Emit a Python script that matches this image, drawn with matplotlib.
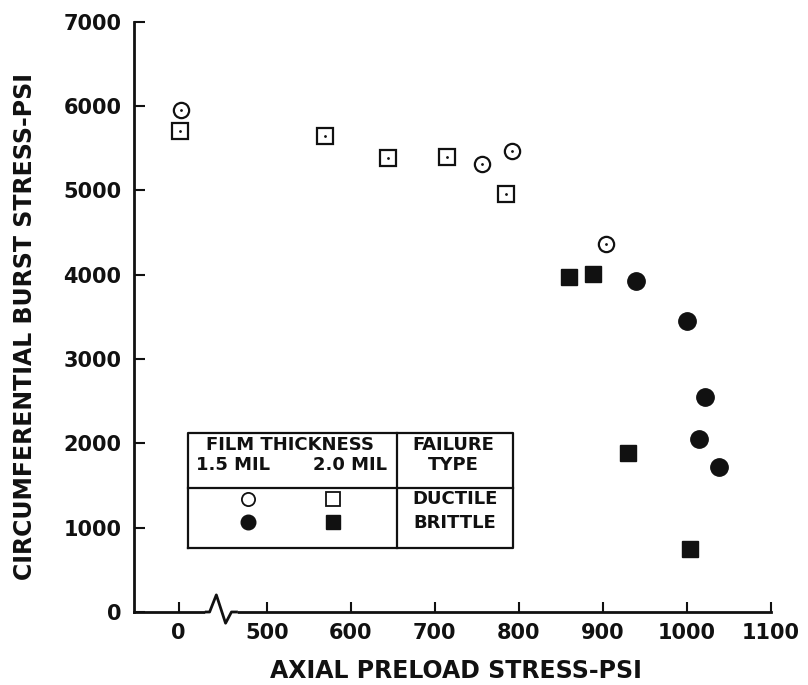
import matplotlib
matplotlib.use('Agg')
import matplotlib.pyplot as plt
import matplotlib.transforms as mtransforms

# 数据
open_circle_x = [3, 756, 792, 904]
open_circle_y = [5950, 5310, 5470, 4370]
open_square_x = [2, 569, 644, 714, 785]
open_square_y = [5700, 5640, 5380, 5390, 4960]
filled_circle_x = [939, 1000, 1021, 1014, 1038]
filled_circle_y = [3920, 3450, 2550, 2050, 1720]
filled_square_x = [860, 888, 930, 1004]
filled_square_y = [3970, 4010, 1880, 750]

x_ticks = [0, 500, 600, 700, 800, 900, 1000, 1100]
y_ticks = [0, 1000, 2000, 3000, 4000, 5000, 6000, 7000]

# 断轴: 0..450 区域被压缩
BREAK_AT = 450
ZERO_POS = 395


def xpos(v):
    return v + ZERO_POS if v < BREAK_AT else v


plt.rcParams['font.family'] = ['DejaVu Sans']
plt.rcParams['font.weight'] = 'bold'

fig = plt.figure(figsize=(8.08, 6.85), dpi=100)
ax = fig.add_axes([0.1658, 0.10657, 0.7884, 0.8617])

ink = '#111111'
open_kw = dict(linestyle='none', markerfacecolor='white', markeredgecolor=ink,
               markeredgewidth=1.6, zorder=3)
dot_kw = dict(linestyle='none', marker='.', markersize=2, color=ink, zorder=4)

ax.plot([xpos(v) for v in open_circle_x], open_circle_y, marker='o', markersize=11, **open_kw)
ax.plot([xpos(v) for v in open_circle_x], open_circle_y, **dot_kw)
ax.plot([xpos(v) for v in open_square_x], open_square_y, marker='s', markersize=11, **open_kw)
ax.plot([xpos(v) for v in open_square_x], open_square_y, **dot_kw)
ax.plot([xpos(v) for v in filled_circle_x], filled_circle_y, marker='o', markersize=12.5,
        linestyle='none', color=ink, zorder=3)
ax.plot([xpos(v) for v in filled_square_x], filled_square_y, marker='s', markersize=12,
        linestyle='none', color=ink, zorder=3)

ax.set_xlim(342, 1100)
ax.set_ylim(0, 7000)
ax.set_xticks([xpos(v) for v in x_ticks])
ax.set_xticklabels([str(v) for v in x_ticks])
ax.set_yticks(y_ticks)
ax.set_yticklabels([str(v) for v in y_ticks])

for s in ['top', 'right']:
    ax.spines[s].set_visible(False)
for s in ['left', 'bottom']:
    ax.spines[s].set_linewidth(2)
    ax.spines[s].set_color(ink)

ax.tick_params(axis='x', direction='in', length=7, width=1.5, pad=8, labelsize=15, colors=ink)
ax.tick_params(axis='y', direction='in', length=8, width=1.5, pad=9, labelsize=15, colors=ink)

# 断轴锯齿
trans = mtransforms.blended_transform_factory(ax.transData, ax.transAxes)
ax.plot([430, 462], [0, 0], color='white', lw=4, transform=trans, clip_on=False, zorder=5)
ax.plot([428, 432, 440, 451, 458, 464], [0, 0, 0.029, -0.019, 0, 0], color=ink, lw=2,
        transform=trans, clip_on=False, zorder=6)

# 图例表格
box_l, box_r, box_t, box_b = 0.0853, 0.595, 0.3027, 0.1079
div_x, div_y = 0.4124, 0.2096
T = ax.transAxes
lw_box = 1.6
ax.plot([box_l, box_r, box_r, box_l, box_l], [box_b, box_b, box_t, box_t, box_b],
        color=ink, lw=lw_box, transform=T, zorder=5)
ax.plot([div_x, div_x], [box_b, box_t], color=ink, lw=lw_box, transform=T, zorder=5)
ax.plot([box_l, box_r], [div_y, div_y], color=ink, lw=lw_box, transform=T, zorder=5)

tkw = dict(transform=T, ha='center', va='center', fontsize=13, fontweight='bold', color=ink)
ax.text(0.2449, 0.2829, 'FILM THICKNESS', **tkw)
ax.text(0.1559, 0.249, '1.5 MIL', **tkw)
ax.text(0.339, 0.249, '2.0 MIL', **tkw)
ax.text(0.5013, 0.2829, 'FAILURE', **tkw)
ax.text(0.5013, 0.249, 'TYPE', **tkw)
ax.text(0.504, 0.1914, 'DUCTILE', **tkw)
ax.text(0.504, 0.1508, 'BRITTLE', **tkw)

ax.plot([0.1794], [0.1914], marker='o', markersize=9.5, transform=T, clip_on=False,
        linestyle='none', markerfacecolor='white', markeredgecolor=ink, markeredgewidth=1.3, zorder=6)
ax.plot([0.1794], [0.1914], transform=T, clip_on=False, **dot_kw)
ax.plot([0.3129], [0.1914], marker='s', markersize=9.5, transform=T, clip_on=False,
        linestyle='none', markerfacecolor='white', markeredgecolor=ink, markeredgewidth=1.3, zorder=6)
ax.plot([0.1794], [0.152], marker='o', markersize=10.5, transform=T, clip_on=False,
        linestyle='none', color=ink, zorder=6)
ax.plot([0.3129], [0.152], marker='s', markersize=10, transform=T, clip_on=False,
        linestyle='none', color=ink, zorder=6)

# 坐标轴标题
fig.text(0.5644, 0.0204, 'AXIAL PRELOAD STRESS-PSI', ha='center', va='center',
         fontsize=17, fontweight='bold', color=ink)
fig.text(0.031, 0.5234, 'CIRCUMFERENTIAL BURST STRESS-PSI', ha='center', va='center',
         rotation=90, fontsize=17, fontweight='bold', color=ink)

fig.savefig('out.png', dpi=100)
